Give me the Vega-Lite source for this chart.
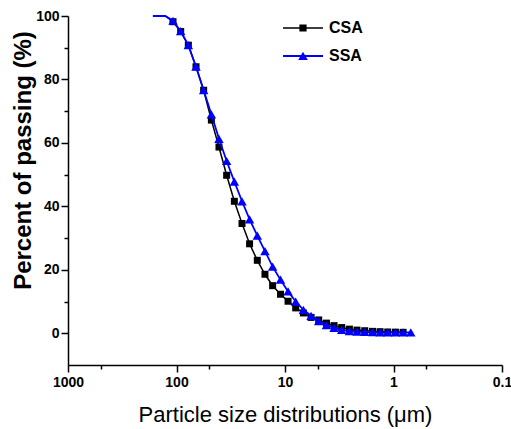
{
  "$schema": "https://vega.github.io/schema/vega-lite/v6.json",
  "autosize": {"type": "none"},
  "width": 434,
  "height": 349,
  "padding": {"left": 68, "top": 16, "right": 9, "bottom": 64},
  "background": "white",
  "config": {
    "view": {"stroke": null},
    "font": "Liberation Sans",
    "axis": {"grid": false, "domainColor": "black", "tickColor": "black", "labelColor": "black", "titleColor": "black"}
  },
  "data": {
    "values": [
      {"size": 165, "pct": 100, "series": "CSA"},
      {"size": 127, "pct": 100, "series": "CSA"},
      {"size": 107.7, "pct": 98.2, "series": "CSA"},
      {"size": 91.5, "pct": 95.1, "series": "CSA"},
      {"size": 77.8, "pct": 90.8, "series": "CSA"},
      {"size": 66.1, "pct": 84.0, "series": "CSA"},
      {"size": 56.2, "pct": 76.6, "series": "CSA"},
      {"size": 47.7, "pct": 67.2, "series": "CSA"},
      {"size": 40.6, "pct": 58.7, "series": "CSA"},
      {"size": 34.5, "pct": 49.8, "series": "CSA"},
      {"size": 29.3, "pct": 41.6, "series": "CSA"},
      {"size": 24.9, "pct": 34.6, "series": "CSA"},
      {"size": 21.2, "pct": 28.2, "series": "CSA"},
      {"size": 18.0, "pct": 23.0, "series": "CSA"},
      {"size": 15.3, "pct": 18.6, "series": "CSA"},
      {"size": 13.0, "pct": 15.0, "series": "CSA"},
      {"size": 11.0, "pct": 12.3, "series": "CSA"},
      {"size": 9.37, "pct": 10.1, "series": "CSA"},
      {"size": 7.97, "pct": 8.0, "series": "CSA"},
      {"size": 6.77, "pct": 6.4, "series": "CSA"},
      {"size": 5.75, "pct": 5.0, "series": "CSA"},
      {"size": 4.89, "pct": 4.2, "series": "CSA"},
      {"size": 4.15, "pct": 3.2, "series": "CSA"},
      {"size": 3.53, "pct": 2.4, "series": "CSA"},
      {"size": 3.0, "pct": 1.8, "series": "CSA"},
      {"size": 2.55, "pct": 1.3, "series": "CSA"},
      {"size": 2.17, "pct": 1.0, "series": "CSA"},
      {"size": 1.84, "pct": 0.8, "series": "CSA"},
      {"size": 1.56, "pct": 0.6, "series": "CSA"},
      {"size": 1.33, "pct": 0.5, "series": "CSA"},
      {"size": 1.13, "pct": 0.4, "series": "CSA"},
      {"size": 0.96, "pct": 0.35, "series": "CSA"},
      {"size": 0.816, "pct": 0.3, "series": "CSA"},
      {"size": 165, "pct": 100, "series": "SSA"},
      {"size": 127, "pct": 100, "series": "SSA"},
      {"size": 107.7, "pct": 98.5, "series": "SSA"},
      {"size": 91.5, "pct": 95.2, "series": "SSA"},
      {"size": 77.8, "pct": 90.8, "series": "SSA"},
      {"size": 66.1, "pct": 84.0, "series": "SSA"},
      {"size": 56.2, "pct": 76.6, "series": "SSA"},
      {"size": 47.7, "pct": 69.0, "series": "SSA"},
      {"size": 40.6, "pct": 61.3, "series": "SSA"},
      {"size": 34.5, "pct": 54.3, "series": "SSA"},
      {"size": 29.3, "pct": 47.8, "series": "SSA"},
      {"size": 24.9, "pct": 41.6, "series": "SSA"},
      {"size": 21.2, "pct": 35.9, "series": "SSA"},
      {"size": 18.0, "pct": 30.8, "series": "SSA"},
      {"size": 15.3, "pct": 25.9, "series": "SSA"},
      {"size": 13.0, "pct": 21.0, "series": "SSA"},
      {"size": 11.0, "pct": 16.9, "series": "SSA"},
      {"size": 9.37, "pct": 13.2, "series": "SSA"},
      {"size": 7.97, "pct": 10.0, "series": "SSA"},
      {"size": 6.77, "pct": 7.4, "series": "SSA"},
      {"size": 5.75, "pct": 5.5, "series": "SSA"},
      {"size": 4.89, "pct": 3.8, "series": "SSA"},
      {"size": 4.15, "pct": 2.6, "series": "SSA"},
      {"size": 3.53, "pct": 1.7, "series": "SSA"},
      {"size": 3.0, "pct": 1.1, "series": "SSA"},
      {"size": 2.55, "pct": 0.7, "series": "SSA"},
      {"size": 2.17, "pct": 0.5, "series": "SSA"},
      {"size": 1.84, "pct": 0.4, "series": "SSA"},
      {"size": 1.56, "pct": 0.35, "series": "SSA"},
      {"size": 1.33, "pct": 0.3, "series": "SSA"},
      {"size": 1.13, "pct": 0.3, "series": "SSA"},
      {"size": 0.96, "pct": 0.3, "series": "SSA"},
      {"size": 0.816, "pct": 0.3, "series": "SSA"},
      {"size": 0.693, "pct": 0.3, "series": "SSA"}
    ]
  },
  "encoding": {
    "x": {"field": "size", "type": "quantitative", "scale": {"type": "log", "domain": [0.1, 1000], "reverse": true}},
    "y": {"field": "pct", "type": "quantitative", "scale": {"domain": [-10, 100], "nice": false, "zero": false}}
  },
  "layer": [
    {
      "transform": [{"filter": "datum.series == 'CSA'"}],
      "mark": {"type": "line", "color": "black", "strokeWidth": 1.5},
      "encoding": {
        "x": {"field": "size", "type": "quantitative", "axis": {
          "orient": "bottom", "values": [1000, 100, 10, 1, 0.1], "format": "~g",
          "labelFontSize": 14, "labelFontWeight": "bold", "labelPadding": 3, "labelFlush": false,
          "tickSize": 7, "tickWidth": 1.5, "domainWidth": 1.5,
          "title": "Particle size distributions (μm)", "titleFontSize": 22, "titleFontWeight": "normal",
          "titleBaseline": "alphabetic", "titleY": 56
        }},
        "y": {"field": "pct", "type": "quantitative", "axis": {
          "orient": "left", "values": [0, 20, 40, 60, 80, 100],
          "labelFontSize": 14, "labelFontWeight": "bold", "labelPadding": 2,
          "tickSize": 7, "tickWidth": 1.5, "domainWidth": 1.5,
          "title": "Percent of passing (%)", "titleFontSize": 24, "titleFontWeight": "bold",
          "titleBaseline": "alphabetic", "titleX": -38, "titleY": 144
        }}
      }
    },
    {
      "transform": [{"filter": "datum.series == 'CSA' && datum.size < 120"}],
      "mark": {"type": "point", "shape": "square", "filled": true, "color": "black", "size": 49, "opacity": 1},
      "encoding": {
        "x": {"field": "size", "type": "quantitative", "axis": null},
        "y": {"field": "pct", "type": "quantitative", "axis": null}
      }
    },
    {
      "transform": [{"filter": "datum.series == 'SSA'"}],
      "mark": {"type": "line", "color": "#0000ff", "strokeWidth": 1.8},
      "encoding": {
        "x": {"field": "size", "type": "quantitative", "axis": {
          "orient": "bottom", "values": [500, 50, 5, 0.5], "labels": false, "domain": false,
          "tickSize": 4, "tickWidth": 1.5, "title": null
        }},
        "y": {"field": "pct", "type": "quantitative", "axis": {
          "orient": "left", "values": [10, 30, 50, 70, 90], "labels": false, "domain": false,
          "tickSize": 4, "tickWidth": 1.5, "title": null
        }}
      }
    },
    {
      "transform": [{"filter": "datum.series == 'SSA' && datum.size < 120"}],
      "mark": {"type": "point", "shape": "triangle-up", "filled": true, "color": "#0000ff", "size": 90, "opacity": 1},
      "encoding": {
        "x": {"field": "size", "type": "quantitative", "axis": null},
        "y": {"field": "pct", "type": "quantitative", "axis": null}
      }
    },
    {
      "mark": {"type": "point", "filled": true, "opacity": 0},
      "encoding": {
        "x": {"field": "size", "type": "quantitative", "axis": null},
        "y": {"field": "pct", "type": "quantitative", "axis": null},
        "color": {"field": "series", "type": "nominal",
          "scale": {"domain": ["CSA", "SSA"], "range": ["black", "#0000ff"]},
          "legend": {"orient": "none", "legendX": 215, "legendY": -8, "title": null, "padding": 0,
            "symbolOpacity": 1, "symbolSize": 1600, "labelFontSize": 16, "labelFontWeight": "bold",
            "labelColor": "black", "labelOffset": 6, "rowPadding": -4, "symbolStrokeWidth": 0}},
        "shape": {"field": "series", "type": "nominal",
          "scale": {"domain": ["CSA", "SSA"], "range": [
            "M-1,-0.04H1V0.04H-1Z M-0.18,-0.18H0.18V0.18H-0.18Z",
            "M-1,-0.045H1V0.045H-1Z M0,-0.21L0.24,0.2H-0.24Z"
          ]},
          "legend": {"orient": "none", "legendX": 215, "legendY": -8, "title": null, "padding": 0,
            "symbolOpacity": 1, "symbolSize": 1600, "labelFontSize": 16, "labelFontWeight": "bold",
            "labelColor": "black", "labelOffset": 6, "rowPadding": -4, "symbolStrokeWidth": 0}}
      }
    }
  ],
  "resolve": {"axis": {"x": "independent", "y": "independent"}}
}
